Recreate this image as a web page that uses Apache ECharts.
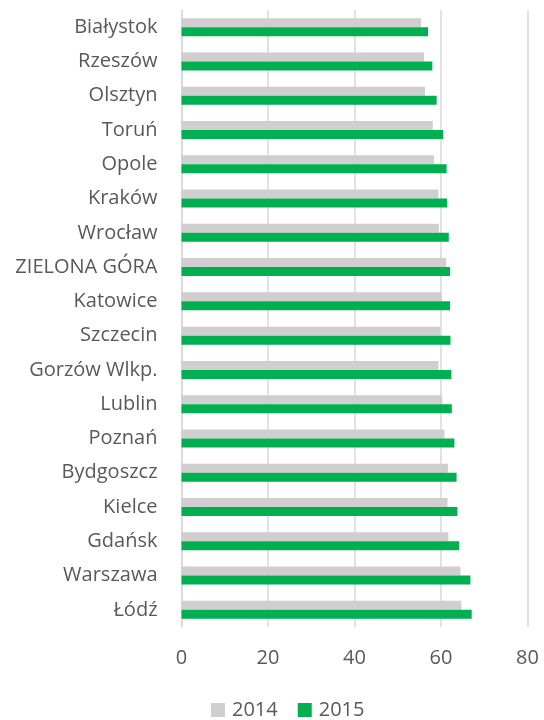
<!DOCTYPE html>
<html>
<head>
<meta charset="utf-8">
<script src="https://cdn.jsdelivr.net/npm/echarts@6/dist/echarts.min.js"></script>
<style>
html, body { margin: 0; padding: 0; background: #fff; }
#chart { width: 544px; height: 720px; }
</style>
</head>
<body>
<div id="chart"></div>
<script>
var cities = ['Białystok', 'Rzeszów', 'Olsztyn', 'Toruń', 'Opole', 'Kraków', 'Wrocław',
    'ZIELONA GÓRA', 'Katowice', 'Szczecin', 'Gorzów Wlkp.', 'Lublin', 'Poznań',
    'Bydgoszcz', 'Kielce', 'Gdańsk', 'Warszawa', 'Łódź'];
var values2014 = [55.4, 56.1, 56.3, 58.1, 58.4, 59.4, 59.5, 61.2, 60.2, 59.8, 59.4, 60.3,
    60.8, 61.6, 61.5, 61.7, 64.5, 64.7];
var values2015 = [57.0, 58.0, 59.0, 60.5, 61.3, 61.4, 61.8, 62.1, 62.1, 62.2, 62.4, 62.5,
    63.1, 63.6, 63.8, 64.2, 66.8, 67.1];
var xTicks = [0, 20, 40, 60, 80];

var dom = document.getElementById('chart');
var myChart = echarts.init(dom);
var font = 'Open Sans';

var option = {
    animation: false,
    textStyle: { fontFamily: font },
    legend: {
        data: ['2014', '2015'],
        top: 700,
        padding: 0,
        left: 211,
        itemWidth: 14,
        itemHeight: 14,
        itemGap: 20,
        icon: 'rect',
        textStyle: { fontSize: 20, color: '#595959', fontFamily: font, padding: [0, 0, 0, 2] }
    },
    grid: {
        left: 181.5,
        right: 16.5,
        top: 10,
        bottom: 93
    },
    xAxis: {
        type: 'value',
        min: xTicks[0],
        max: xTicks[xTicks.length - 1],
        interval: 20,
        axisLine: { show: false },
        axisTick: { show: false },
        splitLine: { lineStyle: { color: '#d9d9d9', width: 1.5 } },
        axisLabel: { fontSize: 20, color: '#595959', margin: 21, fontFamily: font }
    },
    yAxis: {
        type: 'category',
        inverse: true,
        data: cities,
        axisLine: { show: true, lineStyle: { color: '#d9d9d9', width: 1.5 } },
        axisTick: { show: false },
        axisLabel: { fontSize: 20, color: '#595959', margin: 24, fontFamily: font }
    },
    series: [
        {
            name: '2014',
            type: 'bar',
            data: values2014,
            barWidth: 9,
            barGap: '0%',
            itemStyle: { color: '#d0cece' }
        },
        {
            name: '2015',
            type: 'bar',
            data: values2015,
            barWidth: 9,
            itemStyle: { color: '#00b050' }
        }
    ]
};
myChart.setOption(option);
</script>
</body>
</html>
